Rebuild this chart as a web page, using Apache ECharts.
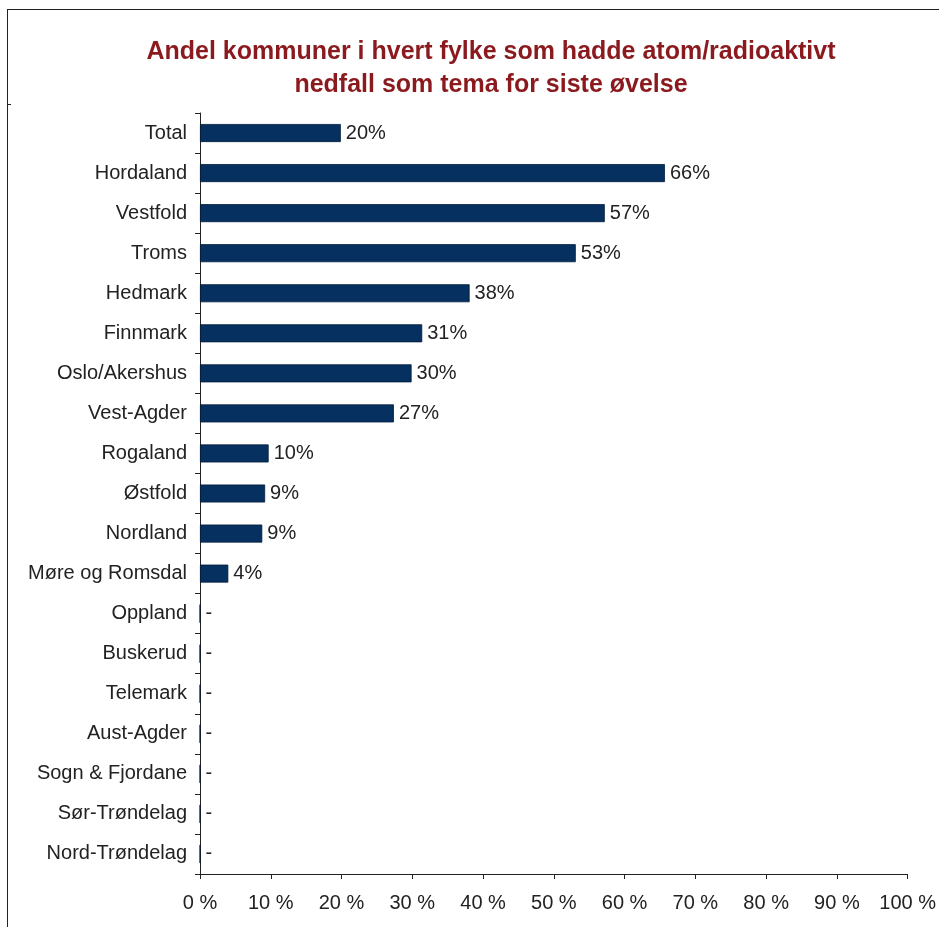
<!DOCTYPE html>
<html>
<head>
    <meta charset="utf-8">
    <title>Atom/radioaktivt nedfall</title>
    <script src="https://cdn.jsdelivr.net/npm/echarts@6.0.0/dist/echarts.min.js"></script>
    <style>
        html, body { margin: 0; padding: 0; background: #fff; overflow: hidden; }
        .frame {
            position: absolute; left: 7px; top: 9px;
            width: 1000px; height: 1000px;
            border: 1px solid #222;
        }
        .notch { position: absolute; left: 7px; top: 104px; width: 4px; height: 1px; background: #222; }
        #main { position: absolute; left: 0; top: 0; width: 939px; height: 927px; }
    </style>
</head>
<body>
    <div class="frame"></div>
    <div class="notch"></div>
    <div id="main"></div>
    <script>
        const fylker = ['Total', 'Hordaland', 'Vestfold', 'Troms', 'Hedmark', 'Finnmark',
            'Oslo/Akershus', 'Vest-Agder', 'Rogaland', 'Østfold', 'Nordland', 'Møre og Romsdal',
            'Oppland', 'Buskerud', 'Telemark', 'Aust-Agder', 'Sogn & Fjordane', 'Sør-Trøndelag', 'Nord-Trøndelag'];
        const andel = [19.9, 65.7, 57.2, 53.1, 38.1, 31.4, 29.9, 27.4, 9.7, 9.2, 8.8, 4.0,
            0, 0, 0, 0, 0, 0, 0];
        const ticks = [0, 10, 20, 30, 40, 50, 60, 70, 80, 90, 100];

        var myChart = echarts.init(document.getElementById('main'));
        const font = 'Liberation Sans, Arial, sans-serif';

        const option = {
            animation: false,
            title: {
                text: 'Andel kommuner i hvert fylke som hadde atom/radioaktivt\nnedfall som tema for siste øvelse',
                left: 486, top: 31, textAlign: 'center',
                textStyle: {
                    color: '#8b1a1f', fontSize: 25, fontWeight: 'bold',
                    fontFamily: font, lineHeight: 33
                }
            },
            grid: { left: 200, right: 31, top: 113, bottom: 53 },
            xAxis: {
                type: 'value',
                min: ticks[0], max: ticks[ticks.length - 1], interval: 10,
                splitLine: { show: false },
                axisLine: { show: true, lineStyle: { color: '#222', width: 1 } },
                axisTick: { show: true, length: 5, inside: false, lineStyle: { color: '#222' } },
                axisLabel: {
                    formatter: '{value} %', color: '#222', fontSize: 20,
                    fontFamily: font, margin: 19
                }
            },
            yAxis: {
                type: 'category',
                inverse: true,
                data: fylker,
                axisLine: { show: true, lineStyle: { color: '#222', width: 1 } },
                axisTick: { show: true, length: 5, lineStyle: { color: '#222' } },
                axisLabel: { color: '#222', fontSize: 20, fontFamily: font, margin: 13 }
            },
            series: [{
                type: 'bar',
                data: andel,
                barWidth: 18,
                itemStyle: { color: '#05305f', borderColor: '#021c3a', borderWidth: 0.8 },
                label: {
                    show: true, position: 'right', distance: 5,
                    color: '#222', fontSize: 20, fontFamily: font,
                    formatter: p => p.value === 0 ? '-' : Math.round(p.value) + '%'
                }
            }]
        };

        myChart.setOption(option);
        window.addEventListener('resize', function () { myChart.resize(); });
    </script>
</body>
</html>
